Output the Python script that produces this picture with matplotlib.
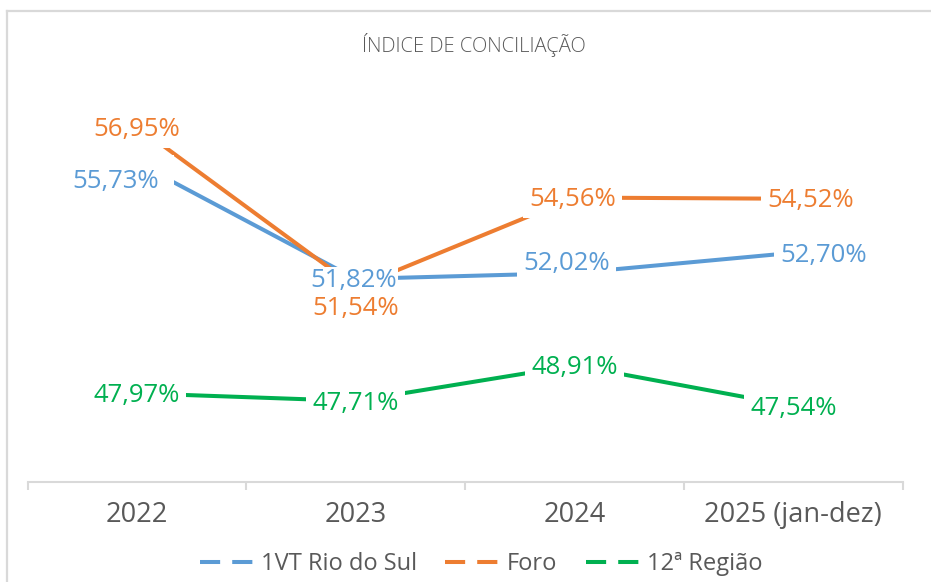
import matplotlib.pyplot as plt
from matplotlib.lines import Line2D

plt.rcParams['font.family'] = ['Open Sans', 'DejaVu Sans']

anos = ["2022", "2023", "2024", "2025 (jan-dez)"]
vt_rio_do_sul = [55.73, 51.82, 52.02, 52.70]
foro = [56.95, 51.54, 54.56, 54.52]
regiao_12 = [47.97, 47.71, 48.91, 47.54]

nomes = ["1VT Rio do Sul", "Foro", "12ª Região"]
cores = ["#5B9BD5", "#ED7D31", "#00B050"]

# label offsets in pixels (dx, dy) and box padding per point
offs_azul = [(-21, -19), (-2, -2), (-8, 10), (30, -3)]
offs_laranja = [(0, -3), (0, -21), (-2, -2), (17, -2)]
offs_verde = [(0, -2), (0, -2), (0, -2), (0, -2)]
pad_azul = [0.55, 0.05, 0.24, 0.24]
pad_laranja = [0.24, 0.1, 0.24, 0.24]
pad_verde = [0.24, 0.24, 0.24, 0.24]

cinza = "#595959"
borda = "#d9d9d9"

fig = plt.figure(figsize=(9.31, 5.82), dpi=100)
ax = fig.add_axes([27.7/931, 1-481.5/582, 875/931, (481.5-95.4)/582])

x = list(range(len(anos)))
series = [vt_rio_do_sul, foro, regiao_12]
for vals, cor in zip(series, cores):
    ax.plot(x, vals, color=cor, lw=2.9, zorder=2, solid_joinstyle='round')

def rotular(vals, cor, offs, pads):
    for xi, v, (dx, dy), p in zip(x, vals, offs, pads):
        txt = f"{v:.2f}%".replace(".", ",")
        ax.annotate(txt, (xi, v), xytext=(dx, dy), textcoords='offset pixels',
                    ha='center', va='center', fontsize=18.5, color=cor, zorder=5,
                    bbox=dict(boxstyle=f'square,pad={p}', fc='white', ec='none'))

rotular(foro, cores[1], offs_laranja, pad_laranja)
rotular(vt_rio_do_sul, cores[0], offs_azul, pad_azul)
rotular(regiao_12, cores[2], offs_verde, pad_verde)

ax.set_xlim(-0.5, 3.5)
ax.set_ylim(45, 58)
for s in ['top', 'left', 'right']:
    ax.spines[s].set_visible(False)
ax.spines['bottom'].set_color(borda)
ax.spines['bottom'].set_linewidth(1.5)
ax.set_yticks([])
ax.set_xticks(x)
ax.set_xticklabels(anos, fontsize=19.5, color=cinza)
ax.tick_params(axis='x', which='major', length=0, pad=14)
ax.set_xticks([-0.5, 0.5, 1.5, 2.5, 3.5], minor=True)
ax.tick_params(axis='x', which='minor', length=6, width=1.5, color=borda)

fig.text(473.5/931, 1-45/582, "ÍNDICE DE CONCILIAÇÃO", ha='center', va='center',
         fontsize=14.5, color=cinza, fontweight='light')

handles = [Line2D([], [], color=c, lw=2.9, linestyle=(0, (5, 3))) for c in cores]
fig.legend(handles, nomes, loc='center', bbox_to_anchor=(481/931, 1-564/582),
           ncol=3, frameon=False, fontsize=17, handlelength=2.5,
           handletextpad=0.1, columnspacing=1.2, labelcolor=cinza)

# chart border (top and left visible)
fig.add_artist(Line2D([7/931, 7/931], [0, 1-11/582], color=borda, lw=1.6))
fig.add_artist(Line2D([7/931, 1], [1-11/582, 1-11/582], color=borda, lw=1.6))

fig.savefig("out.png", dpi=100)
